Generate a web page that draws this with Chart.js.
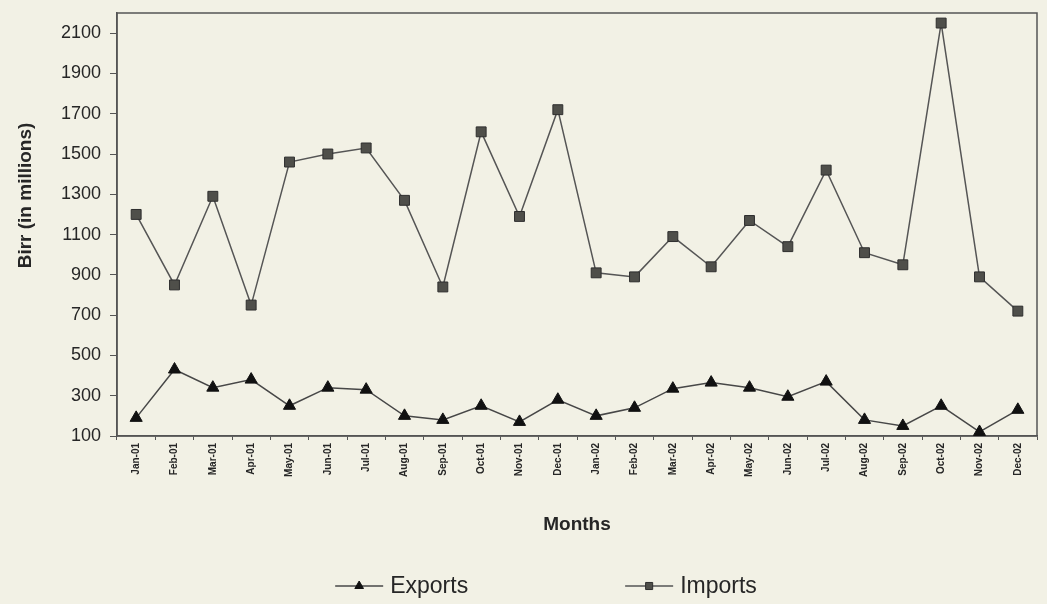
<!DOCTYPE html>
<html>
<head>
<meta charset="utf-8">
<script src="https://cdn.jsdelivr.net/npm/chart.js@4.4.1/dist/chart.umd.min.js"></script>
<style>
html,body{margin:0;padding:0;background:#f2f1e5;}
#wrap{width:1047px;height:604px;position:relative;}
canvas{display:block;}
</style>
</head>
<body>
<div id="wrap"><canvas id="c" width="1047" height="604"></canvas></div>
<script>
const months = ['Jan-01','Feb-01','Mar-01','Apr-01','May-01','Jun-01','Jul-01','Aug-01','Sep-01','Oct-01','Nov-01','Dec-01',
                'Jan-02','Feb-02','Mar-02','Apr-02','May-02','Jun-02','Jul-02','Aug-02','Sep-02','Oct-02','Nov-02','Dec-02'];
const exportsValues = [190,430,340,380,250,340,330,200,180,250,170,280,200,240,335,365,340,295,370,180,150,250,120,230];
const importsValues = [1200,850,1290,750,1460,1500,1530,1270,840,1610,1190,1720,910,890,1090,940,1170,1040,1420,1010,950,2150,890,720];
const yTicks = [100,300,500,700,900,1100,1300,1500,1700,1900,2100];

const FONT = "'Liberation Sans', Arial, sans-serif";
const AXIS = '#555';
const TXT = '#262626';

const frame = {
  id: 'frame',
  beforeDatasetsDraw(chart) {
    const a = chart.chartArea, ctx = chart.ctx;
    ctx.save();
    ctx.strokeStyle = AXIS; ctx.lineWidth = 1.5;
    ctx.strokeRect(a.left, a.top, a.right - a.left, a.bottom - a.top);
    ctx.restore();
  }
};

function marker(ctx, style, x, y, r) {
  ctx.beginPath();
  if (style === 'triangle') {
    ctx.moveTo(x, y - r);
    ctx.lineTo(x + r * 0.866, y + r * 0.5);
    ctx.lineTo(x - r * 0.866, y + r * 0.5);
    ctx.closePath();
  } else {
    const s = r * Math.SQRT1_2;
    ctx.rect(x - s, y - s, 2 * s, 2 * s);
  }
  ctx.fill(); ctx.stroke();
}

const lineLegend = {
  id: 'lineLegend',
  afterDraw(chart, args, o) {
    const ctx = chart.ctx;
    ctx.save();
    ctx.font = o.size + 'px ' + FONT;
    const items = chart.data.datasets.map(ds => ({ds, tw: ctx.measureText(ds.label).width}));
    const w = it => o.lineLen + o.textGap + it.tw;
    const total = items.reduce((s, it) => s + w(it), 0) + o.gap * (items.length - 1);
    let x = o.centerX - total / 2;
    items.forEach(it => {
      const ds = it.ds, y = o.y;
      ctx.strokeStyle = ds.borderColor; ctx.lineWidth = ds.borderWidth;
      ctx.beginPath(); ctx.moveTo(x, y); ctx.lineTo(x + o.lineLen, y); ctx.stroke();
      ctx.fillStyle = ds.pointBackgroundColor; ctx.strokeStyle = ds.pointBorderColor; ctx.lineWidth = 1;
      marker(ctx, ds.pointStyle, x + o.lineLen / 2, y, o.markerR);
      ctx.fillStyle = TXT; ctx.textBaseline = 'middle'; ctx.textAlign = 'left';
      ctx.fillText(ds.label, x + o.lineLen + o.textGap, y + 1);
      x += w(it) + o.gap;
    });
    ctx.restore();
  }
};

new Chart(document.getElementById('c'), {
  type: 'line',
  data: {
    labels: months,
    datasets: [
      {
        label: 'Exports', data: exportsValues,
        borderColor: '#474747', borderWidth: 1.5,
        pointStyle: 'triangle', pointRadius: 7,
        pointBackgroundColor: '#111', pointBorderColor: '#111', pointBorderWidth: 1,
        tension: 0, fill: false
      },
      {
        label: 'Imports', data: importsValues,
        borderColor: '#555', borderWidth: 1.5,
        pointStyle: 'rect', pointRadius: 7,
        pointBackgroundColor: '#4f4f4a', pointBorderColor: '#2e2e2e', pointBorderWidth: 1,
        tension: 0, fill: false
      }
    ]
  },
  options: {
    responsive: false, animation: false, devicePixelRatio: 1,
    layout: { padding: { left: 10, right: 10, top: 13, bottom: 68 } },
    plugins: {
      legend: { display: false },
      tooltip: { enabled: false },
      lineLegend: { centerX: 546, y: 586, size: 23, lineLen: 48, textGap: 7, gap: 157, markerR: 5 }
    },
    scales: {
      x: {
        offset: true,
        grid: { display: true, drawOnChartArea: false, offset: true, tickLength: 4, color: AXIS, lineWidth: 1 },
        border: { display: true, color: AXIS, width: 1.5 },
        ticks: { autoSkip: false, maxRotation: 90, minRotation: 90, padding: 3, color: TXT,
                 font: { family: FONT, size: 10, weight: 'bold' } },
        title: { display: true, text: 'Months', color: TXT, font: { family: FONT, size: 19, weight: 'bold' },
                 padding: { top: 34, bottom: 0 } },
        afterFit(s) { s.height = 100; s.paddingLeft = 0; s.paddingRight = 0; }
      },
      y: {
        min: 100, max: 2200,
        afterBuildTicks(s) { s.ticks = yTicks.map(v => ({ value: v })); },
        grid: { display: true, drawOnChartArea: false, tickLength: 7, color: AXIS, lineWidth: 1 },
        border: { display: true, color: AXIS, width: 1.5 },
        ticks: { padding: 9, color: TXT, font: { family: FONT, size: 18 }, callback: v => String(v) },
        title: { display: true, text: '\u00a0'.repeat(11) + 'Birr (in millions)', color: TXT,
                 font: { family: FONT, size: 19, weight: 'bold' }, padding: { top: 4, bottom: 4 } },
        afterFit(s) { s.width = 107; s.paddingTop = 0; s.paddingBottom = 0; }
      }
    }
  },
  plugins: [frame, lineLegend]
});
</script>
</body>
</html>
